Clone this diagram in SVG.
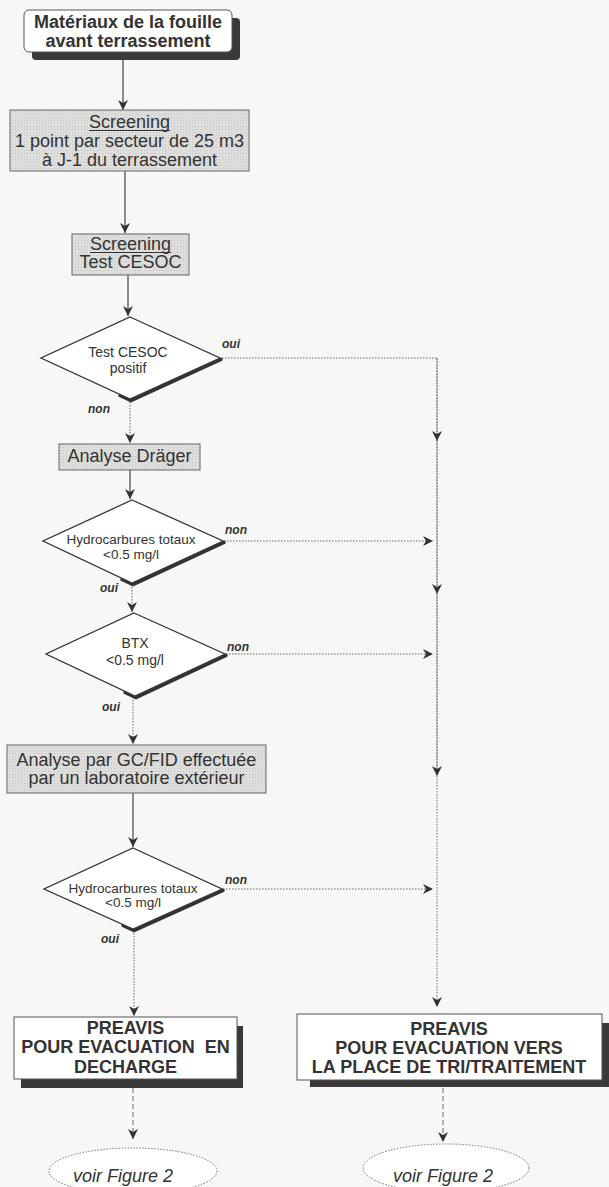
<svg xmlns="http://www.w3.org/2000/svg" width="609" height="1187" viewBox="0 0 609 1187">
<defs>
<marker id="ah" markerUnits="userSpaceOnUse" markerWidth="12" markerHeight="12" viewBox="-1 -6 12 12" refX="10" refY="0" orient="auto">
<path d="M0,-5 L10,0 L0,5 L3,0 z" fill="#333"/>
</marker>
<pattern id="dots" width="3" height="3" patternUnits="userSpaceOnUse">
<rect width="3" height="3" fill="#e2e2e0"/>
<rect width="1" height="1" fill="#bdbdbb"/>
<rect x="1.5" y="1.5" width="1" height="1" fill="#c8c8c6"/>
</pattern>
</defs>
<style>
.t{font-family:"Liberation Sans",Arial,sans-serif;fill:#333;text-anchor:middle}
.b{font-weight:bold}
.r18{font-size:18px}
.d14{font-size:14px}
.d13{font-size:13.5px}
.lbl{font-family:"Liberation Sans",Arial,sans-serif;font-size:12px;font-weight:bold;font-style:italic;fill:#333}
.gray{fill:url(#dots);stroke:#666;stroke-width:1}
.white{fill:#fff;stroke:#555;stroke-width:1}
.sh{fill:#3a3a3a}
.dia{fill:#fff;stroke:#333;stroke-width:1.3}
.dsh{fill:none;stroke:#333;stroke-width:3.5;stroke-linecap:round}
.solid{fill:none;stroke:#444;stroke-width:1.2}
.dot{fill:none;stroke:#666;stroke-width:1;stroke-dasharray:1.5 1.5}
.dash{fill:none;stroke:#666;stroke-width:1;stroke-dasharray:5 3}
.ell{fill:#fff;stroke:#777;stroke-width:1;stroke-dasharray:1.5 1.5}
.ul{stroke:#333;stroke-width:1}
</style>
<rect width="609" height="1187" fill="#f7f7f5"/>

<g id="connectors">
<line class="solid" x1="123" y1="52" x2="123" y2="110" marker-end="url(#ah)"/>
<line class="solid" x1="125" y1="171" x2="125" y2="233" marker-end="url(#ah)"/>
<line class="solid" x1="128" y1="275" x2="128" y2="316" marker-end="url(#ah)"/>
<line class="dot" x1="130" y1="399" x2="130" y2="443" marker-end="url(#ah)"/>
<line class="solid" x1="130" y1="470" x2="130" y2="499" marker-end="url(#ah)"/>
<line class="dot" x1="132" y1="584" x2="132" y2="612" marker-end="url(#ah)"/>
<line class="dot" x1="133" y1="697" x2="133" y2="744" marker-end="url(#ah)"/>
<line class="solid" x1="133" y1="793" x2="133" y2="847" marker-end="url(#ah)"/>
<line class="dot" x1="134" y1="930" x2="134" y2="1016" marker-end="url(#ah)"/>
<polyline class="dot" points="222,358 437,358 437,1007" marker-end="url(#ah)"/>
<line class="dot" x1="437" y1="358" x2="437" y2="441" marker-end="url(#ah)"/>
<line class="dot" x1="437" y1="441" x2="437" y2="594" marker-end="url(#ah)"/>
<line class="dot" x1="437" y1="594" x2="437" y2="776" marker-end="url(#ah)"/>
<line class="dot" x1="224" y1="541" x2="433" y2="541" marker-end="url(#ah)"/>
<line class="dot" x1="226" y1="654" x2="433" y2="654" marker-end="url(#ah)"/>
<line class="dot" x1="223" y1="889" x2="433" y2="889" marker-end="url(#ah)"/>
<line class="dash" x1="133" y1="1088" x2="133" y2="1139" marker-end="url(#ah)"/>
<line class="dash" x1="443" y1="1088" x2="443" y2="1142" marker-end="url(#ah)"/>
<text class="lbl" x="222" y="348">oui</text>
<text class="lbl" x="88" y="413">non</text>
<text class="lbl" x="225" y="534">non</text>
<text class="lbl" x="100" y="592">oui</text>
<text class="lbl" x="227" y="651">non</text>
<text class="lbl" x="102" y="711">oui</text>
<text class="lbl" x="225" y="884">non</text>
<text class="lbl" x="101" y="943">oui</text>
</g>

<g id="n-start">
<rect class="sh" x="32" y="18" width="208" height="42" rx="4"/>
<rect class="white" x="24" y="10" width="208" height="42" rx="5"/>
<text class="t b r18" x="128" y="28">Matériaux de la fouille</text>
<text class="t b r18" x="128" y="47">avant terrassement</text>
</g>

<g id="n-screening1">
<rect class="gray" x="10" y="110" width="239" height="61"/>
<text class="t r18" x="129.5" y="128">Screening</text>
<line class="ul" x1="89" y1="130.5" x2="170" y2="130.5"/>
<text class="t r18" x="129.5" y="147">1 point par secteur de 25 m3</text>
<text class="t r18" x="129.5" y="166">à J-1 du terrassement</text>
</g>

<g id="n-screening2">
<rect class="gray" x="72" y="234" width="117" height="41"/>
<text class="t r18" x="130.5" y="250">Screening</text>
<line class="ul" x1="90" y1="252.5" x2="171" y2="252.5"/>
<text class="t r18" x="130.5" y="268">Test CESOC</text>
</g>

<g id="n-d1">
<polyline class="dsh" points="221,359.5 131,400.5 120,395.5"/>
<polygon class="dia" points="130,317 220,358 130,399 41,358"/>
<text class="t d14" x="128" y="357">Test CESOC</text>
<text class="t d14" x="128" y="373">positif</text>
</g>

<g id="n-drager">
<rect class="gray" x="59" y="444" width="141" height="26"/>
<text class="t r18" x="129.5" y="462">Analyse Dräger</text>
</g>

<g id="n-d2">
<polyline class="dsh" points="224,542.5 133,584.5 122,579.5"/>
<polygon class="dia" points="132,500 223,541 132,583 43,541"/>
<text class="t d13" x="131" y="544">Hydrocarbures totaux</text>
<text class="t d13" x="131" y="559">&lt;0.5 mg/l</text>
</g>

<g id="n-d3">
<polyline class="dsh" points="226,655.5 136,697.5 125,692.5"/>
<polygon class="dia" points="134,613 225,654 135,696 46,654"/>
<text class="t d14" x="135" y="648">BTX</text>
<text class="t d14" x="135" y="665">&lt;0.5 mg/l</text>
</g>

<g id="n-gc">
<rect class="gray" x="7" y="745" width="259" height="48"/>
<text class="t r18" x="136.5" y="766">Analyse par GC/FID effectuée</text>
<text class="t r18" x="136.5" y="784">par un laboratoire extérieur</text>
</g>

<g id="n-d4">
<polyline class="dsh" points="223,890.5 134,930.5 123,925.5"/>
<polygon class="dia" points="133,848 222,889 133,929 44,889"/>
<text class="t d13" x="133" y="893">Hydrocarbures totaux</text>
<text class="t d13" x="133" y="907">&lt;0.5 mg/l</text>
</g>

<g id="n-decharge">
<rect class="sh" x="21" y="1026" width="222" height="62"/>
<rect class="white" x="14" y="1017" width="223" height="62"/>
<text class="t b r18" x="125.5" y="1034">PREAVIS</text>
<text class="t b r18" x="125.5" y="1053" xml:space="preserve">POUR EVACUATION  EN</text>
<text class="t b r18" x="125.5" y="1073">DECHARGE</text>
</g>

<g id="n-tri">
<rect class="sh" x="310" y="1023" width="300" height="64"/>
<rect class="white" x="297" y="1014" width="305" height="66"/>
<text class="t b r18" x="449" y="1035">PREAVIS</text>
<text class="t b r18" x="449" y="1054">POUR EVACUATION VERS</text>
<text class="t b r18" x="449" y="1073">LA PLACE DE TRI/TRAITEMENT</text>
</g>

<g id="n-fig2-left">
<ellipse class="ell" cx="133" cy="1171" rx="84" ry="23"/>
<text class="t r18" x="123" y="1182" font-style="italic">voir Figure 2</text>
</g>

<g id="n-fig2-right">
<ellipse class="ell" cx="446" cy="1168" rx="83" ry="24"/>
<text class="t r18" x="443" y="1182" font-style="italic">voir Figure 2</text>
</g>
</svg>
